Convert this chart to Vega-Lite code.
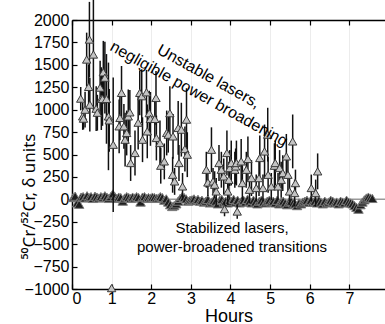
{
  "$schema": "https://vega.github.io/schema/vega-lite/v6.json",
  "width": 313,
  "height": 269,
  "autosize": "none",
  "padding": {"left": 72, "top": 20, "right": 0, "bottom": 35},
  "background": "white",
  "config": {
    "font": "Liberation Sans",
    "view": {"stroke": null},
    "axis": {"labelFont": "Liberation Sans", "titleFont": "Liberation Sans", "labelColor": "#000", "titleColor": "#000", "domainColor": "#000", "tickColor": "#000", "domainWidth": 1.5, "tickWidth": 1.2, "labelFontSize": 16, "titleFontWeight": "normal", "format": "d"}
  },
  "datasets": {
    "unstable": [
      {"x":0.22,"y":1123,"e":130},{"x":0.27,"y":925,"e":150},{"x":0.29,"y":900,"e":120},{"x":0.33,"y":1000,"e":200},
      {"x":0.37,"y":1559,"e":300},{"x":0.42,"y":1254,"e":250},{"x":0.44,"y":1782,"e":420},{"x":0.45,"y":1056,"e":300},
      {"x":0.54,"y":1615,"e":620},{"x":0.61,"y":1011,"e":250},{"x":0.64,"y":966,"e":200},{"x":0.71,"y":1246,"e":300},
      {"x":0.74,"y":1123,"e":350},{"x":0.77,"y":1120,"e":300},{"x":0.79,"y":1417,"e":350},{"x":0.83,"y":1357,"e":400},
      {"x":0.87,"y":1120,"e":500},{"x":0.92,"y":925,"e":600},{"x":0.94,"y":881,"e":350},{"x":1.04,"y":609,"e":750},
      {"x":1.19,"y":814,"e":300},{"x":1.21,"y":908,"e":250},{"x":1.25,"y":1187,"e":300},{"x":1.31,"y":814,"e":250},
      {"x":1.34,"y":665,"e":300},{"x":1.38,"y":740,"e":250},{"x":1.42,"y":925,"e":300},{"x":1.46,"y":970,"e":250},
      {"x":1.48,"y":405,"e":200},{"x":1.59,"y":517,"e":250},{"x":1.67,"y":855,"e":300},{"x":1.71,"y":1187,"e":250},
      {"x":1.76,"y":1150,"e":300},{"x":1.78,"y":665,"e":250},{"x":1.88,"y":1194,"e":250},{"x":1.90,"y":758,"e":300},
      {"x":1.95,"y":961,"e":250},{"x":1.98,"y":897,"e":300},{"x":2.09,"y":897,"e":250},{"x":2.12,"y":1131,"e":300},
      {"x":2.13,"y":684,"e":250},{"x":2.22,"y":628,"e":250},{"x":2.24,"y":375,"e":200},{"x":2.33,"y":423,"e":200},
      {"x":2.39,"y":740,"e":250},{"x":2.43,"y":721,"e":200},{"x":2.47,"y":961,"e":300},{"x":2.54,"y":274,"e":200},
      {"x":2.55,"y":702,"e":250},{"x":2.59,"y":200,"e":150},{"x":2.68,"y":796,"e":300},{"x":2.70,"y":405,"e":200},
      {"x":2.76,"y":777,"e":300},{"x":2.79,"y":144,"e":150},{"x":2.85,"y":561,"e":250},{"x":2.89,"y":889,"e":350},
      {"x":2.91,"y":498,"e":250},{"x":3.39,"y":330,"e":200},{"x":3.43,"y":188,"e":150},{"x":3.52,"y":553,"e":250},
      {"x":3.56,"y":200,"e":150},{"x":3.60,"y":163,"e":150},{"x":3.64,"y":88,"e":150},{"x":3.71,"y":405,"e":200},
      {"x":3.77,"y":330,"e":200},{"x":3.83,"y":256,"e":200},{"x":3.85,"y":-109,"e":80},{"x":3.91,"y":517,"e":250},
      {"x":3.93,"y":88,"e":150},{"x":3.96,"y":218,"e":200},{"x":3.98,"y":349,"e":200},{"x":4.02,"y":405,"e":250},
      {"x":4.11,"y":330,"e":200},{"x":4.13,"y":367,"e":200},{"x":4.15,"y":405,"e":250},{"x":4.17,"y":-136,"e":80},
      {"x":4.27,"y":423,"e":250},{"x":4.30,"y":181,"e":200},{"x":4.40,"y":330,"e":200},{"x":4.44,"y":450,"e":250},
      {"x":4.48,"y":107,"e":150},{"x":4.53,"y":237,"e":200},{"x":4.65,"y":126,"e":150},{"x":4.72,"y":237,"e":200},
      {"x":4.74,"y":461,"e":250},{"x":4.82,"y":126,"e":150},{"x":4.86,"y":534,"e":300},{"x":4.94,"y":721,"e":300},
      {"x":4.95,"y":274,"e":200},{"x":5.03,"y":144,"e":150},{"x":5.11,"y":375,"e":250},{"x":5.13,"y":405,"e":250},
      {"x":5.20,"y":144,"e":150},{"x":5.24,"y":349,"e":200},{"x":5.28,"y":218,"e":200},{"x":5.32,"y":293,"e":200},
      {"x":5.41,"y":479,"e":250},{"x":5.45,"y":274,"e":200},{"x":5.49,"y":88,"e":150},{"x":5.57,"y":646,"e":300},
      {"x":5.62,"y":70,"e":150},{"x":5.64,"y":181,"e":150},{"x":6.04,"y":126,"e":150},{"x":6.15,"y":70,"e":150},
      {"x":6.20,"y":312,"e":200},{"x":1.00,"y":-990,"e":0}
    ],
    "stable": [
      {"x":0.03,"y":20},{"x":0.08,"y":35},{"x":0.13,"y":-40},{"x":0.18,"y":-55},{"x":0.23,"y":25},{"x":0.28,"y":30},{"x":0.33,"y":15},{"x":0.38,"y":40},{"x":0.43,"y":20},{"x":0.48,"y":30},
      {"x":0.53,"y":10},{"x":0.58,"y":35},{"x":0.63,"y":25},{"x":0.68,"y":15},{"x":0.73,"y":30},{"x":0.78,"y":20},{"x":0.83,"y":40},{"x":0.88,"y":25},{"x":0.93,"y":10},{"x":0.98,"y":30},
      {"x":1.03,"y":60},{"x":1.08,"y":30},{"x":1.13,"y":10},{"x":1.18,"y":25},{"x":1.23,"y":20},{"x":1.28,"y":-20},{"x":1.33,"y":15},{"x":1.38,"y":30},{"x":1.43,"y":20},{"x":1.48,"y":10},
      {"x":1.53,"y":25},{"x":1.58,"y":15},{"x":1.63,"y":30},{"x":1.68,"y":20},{"x":1.73,"y":-30},{"x":1.78,"y":25},{"x":1.83,"y":30},{"x":1.88,"y":10},{"x":1.93,"y":20},{"x":1.98,"y":15},
      {"x":2.03,"y":25},{"x":2.08,"y":20},{"x":2.13,"y":10},{"x":2.18,"y":15},{"x":2.23,"y":30},{"x":2.28,"y":20},{"x":2.33,"y":-10},{"x":2.38,"y":5},{"x":2.43,"y":-30},{"x":2.48,"y":-60},
      {"x":2.53,"y":-80},{"x":2.58,"y":-70},{"x":2.63,"y":-50},{"x":2.68,"y":-20},{"x":2.73,"y":10},{"x":2.78,"y":30},{"x":2.83,"y":20},{"x":2.88,"y":5},{"x":2.93,"y":-20},{"x":2.98,"y":-10},
      {"x":3.03,"y":-5},{"x":3.08,"y":5},{"x":3.13,"y":-15},{"x":3.18,"y":0},{"x":3.23,"y":-20},{"x":3.28,"y":-10},{"x":3.33,"y":-30},{"x":3.38,"y":-20},{"x":3.43,"y":0},{"x":3.48,"y":-40},
      {"x":3.53,"y":-30},{"x":3.58,"y":-10},{"x":3.63,"y":-20},{"x":3.68,"y":-50},{"x":3.73,"y":-10},{"x":3.78,"y":0},{"x":3.83,"y":-30},{"x":3.88,"y":-20},{"x":3.93,"y":-40},{"x":3.98,"y":-10},
      {"x":4.03,"y":-20},{"x":4.08,"y":0},{"x":4.13,"y":-30},{"x":4.18,"y":-10},{"x":4.23,"y":-40},{"x":4.28,"y":-20},{"x":4.33,"y":-10},{"x":4.38,"y":-30},{"x":4.43,"y":0},{"x":4.48,"y":-20},
      {"x":4.53,"y":-40},{"x":4.58,"y":-10},{"x":4.63,"y":-30},{"x":4.68,"y":-50},{"x":4.73,"y":-20},{"x":4.78,"y":-10},{"x":4.83,"y":-30},{"x":4.88,"y":-40},{"x":4.93,"y":-20},{"x":4.98,"y":-10},
      {"x":5.03,"y":-30},{"x":5.08,"y":-20},{"x":5.13,"y":-40},{"x":5.18,"y":-10},{"x":5.23,"y":-50},{"x":5.28,"y":-30},{"x":5.33,"y":-20},{"x":5.38,"y":-40},{"x":5.43,"y":-60},{"x":5.48,"y":-30},
      {"x":5.53,"y":-20},{"x":5.58,"y":-40},{"x":5.63,"y":-50},{"x":5.68,"y":-70},{"x":5.73,"y":-40},{"x":5.78,"y":-50},{"x":5.83,"y":-30},{"x":5.88,"y":-20},{"x":5.93,"y":-10},{"x":5.98,"y":-30},
      {"x":6.03,"y":-10},{"x":6.08,"y":-30},{"x":6.13,"y":-20},{"x":6.18,"y":-40},{"x":6.23,"y":-10},{"x":6.28,"y":-30},{"x":6.33,"y":-50},{"x":6.38,"y":-20},{"x":6.43,"y":-40},{"x":6.48,"y":-30},
      {"x":6.53,"y":-10},{"x":6.58,"y":-20},{"x":6.63,"y":-40},{"x":6.68,"y":-30},{"x":6.73,"y":-50},{"x":6.78,"y":-20},{"x":6.83,"y":-30},{"x":6.88,"y":-40},{"x":6.93,"y":-10},{"x":6.98,"y":-30},
      {"x":7.03,"y":-40},{"x":7.08,"y":-50},{"x":7.13,"y":-70},{"x":7.18,"y":-90},{"x":7.23,"y":-110},{"x":7.28,"y":-60},{"x":7.33,"y":-30},{"x":7.38,"y":-5},{"x":7.43,"y":15},{"x":7.48,"y":25},
      {"x":7.53,"y":15},{"x":7.58,"y":10}
    ]
  },
  "resolve": {"axis": {"x": "independent", "y": "independent"}},
  "layer": [
    {
      "data": {"values": [{"x": 0}]},
      "mark": {"type": "rule", "color": "#999", "strokeWidth": 1.5},
      "encoding": {
        "y": {"datum": 0, "type": "quantitative", "scale": {"domain": [-1000, 2000], "nice": false, "zero": false},
          "axis": {"orient": "left", "values": [-1000,-750,-500,-250,0,250,500,750,1000,1250,1500,1750,2000], "tickSize": -5, "labelPadding": 8, "grid": false,
            "title": "⁵⁰Cr/⁵²Cr, δ units", "titleFont": "Noto Sans", "titleFontSize": 17, "titleX": -38, "titleY": 176, "titleAngle": -90, "titleAlign": "center", "titleBaseline": "alphabetic"}}
      }
    },
    {
      "data": {"values": [{"x": 0}]},
      "mark": {"type": "rule", "opacity": 0},
      "encoding": {
        "x": {"field": "x", "type": "quantitative", "scale": {"domain": [0, 7.9], "nice": false, "zero": false},
          "axis": {"orient": "top", "values": [0,1,2,3,4,5,6,7], "tickSize": -5, "labels": false, "title": null, "grid": false}}
      }
    },
    {
      "data": {"name": "stable"},
      "mark": {"type": "point", "shape": "triangle-up", "filled": true, "size": 90, "fill": "#1e1e1e", "stroke": "#7a7a7a", "strokeWidth": 1, "opacity": 1},
      "encoding": {
        "x": {"field": "x", "type": "quantitative", "scale": {"domain": [0, 7.9], "nice": false, "zero": false},
          "axis": {"orient": "bottom", "values": [0,1,2,3,4,5,6,7], "tickSize": -5, "labelPadding": 6, "grid": true, "gridColor": "#ececec", "gridWidth": 1,
            "title": "Hours", "titleFontSize": 18, "titlePadding": 1}},
        "y": {"field": "y", "type": "quantitative", "scale": {"domain": [-1000, 2000], "nice": false, "zero": false}, "axis": null}
      }
    },
    {
      "data": {"name": "unstable"},
      "mark": {"type": "errorbar", "color": "#111", "thickness": 1.5},
      "encoding": {
        "x": {"field": "x", "type": "quantitative", "scale": {"domain": [0, 7.9], "nice": false, "zero": false}, "axis": null},
        "y": {"field": "y", "type": "quantitative", "scale": {"domain": [-1000, 2000], "nice": false, "zero": false}, "axis": null},
        "yError": {"field": "e"}
      }
    },
    {
      "data": {"name": "unstable"},
      "mark": {"type": "point", "shape": "triangle-up", "filled": true, "size": 70, "fill": "#c4c4c4", "stroke": "#3a3a3a", "strokeWidth": 1, "opacity": 1},
      "encoding": {
        "x": {"field": "x", "type": "quantitative", "scale": {"domain": [0, 7.9], "nice": false, "zero": false}, "axis": null},
        "y": {"field": "y", "type": "quantitative", "scale": {"domain": [-1000, 2000], "nice": false, "zero": false}, "axis": null}
      }
    },
    {
      "data": {"values": [{"x": 3.45, "y": 1370, "label": ["Unstable lasers,", "negligible power broadening"]}]},
      "mark": {"type": "text", "angle": 29, "align": "center", "baseline": "middle", "fontSize": 16, "lineHeight": 20, "color": "#000", "font": "Liberation Sans"},
      "encoding": {
        "x": {"field": "x", "type": "quantitative", "scale": {"domain": [0, 7.9], "nice": false, "zero": false}, "axis": null},
        "y": {"field": "y", "type": "quantitative", "scale": {"domain": [-1000, 2000], "nice": false, "zero": false}, "axis": null},
        "text": {"field": "label"}
      }
    },
    {
      "data": {"values": [{"x": 4.04, "y": -320, "label": ["Stabilized lasers,", "power-broadened transitions"]}]},
      "mark": {"type": "text", "align": "center", "baseline": "middle", "fontSize": 15, "lineHeight": 19, "color": "#000", "font": "Liberation Sans"},
      "encoding": {
        "x": {"field": "x", "type": "quantitative", "scale": {"domain": [0, 7.9], "nice": false, "zero": false}, "axis": null},
        "y": {"field": "y", "type": "quantitative", "scale": {"domain": [-1000, 2000], "nice": false, "zero": false}, "axis": null},
        "text": {"field": "label"}
      }
    }
  ]
}
